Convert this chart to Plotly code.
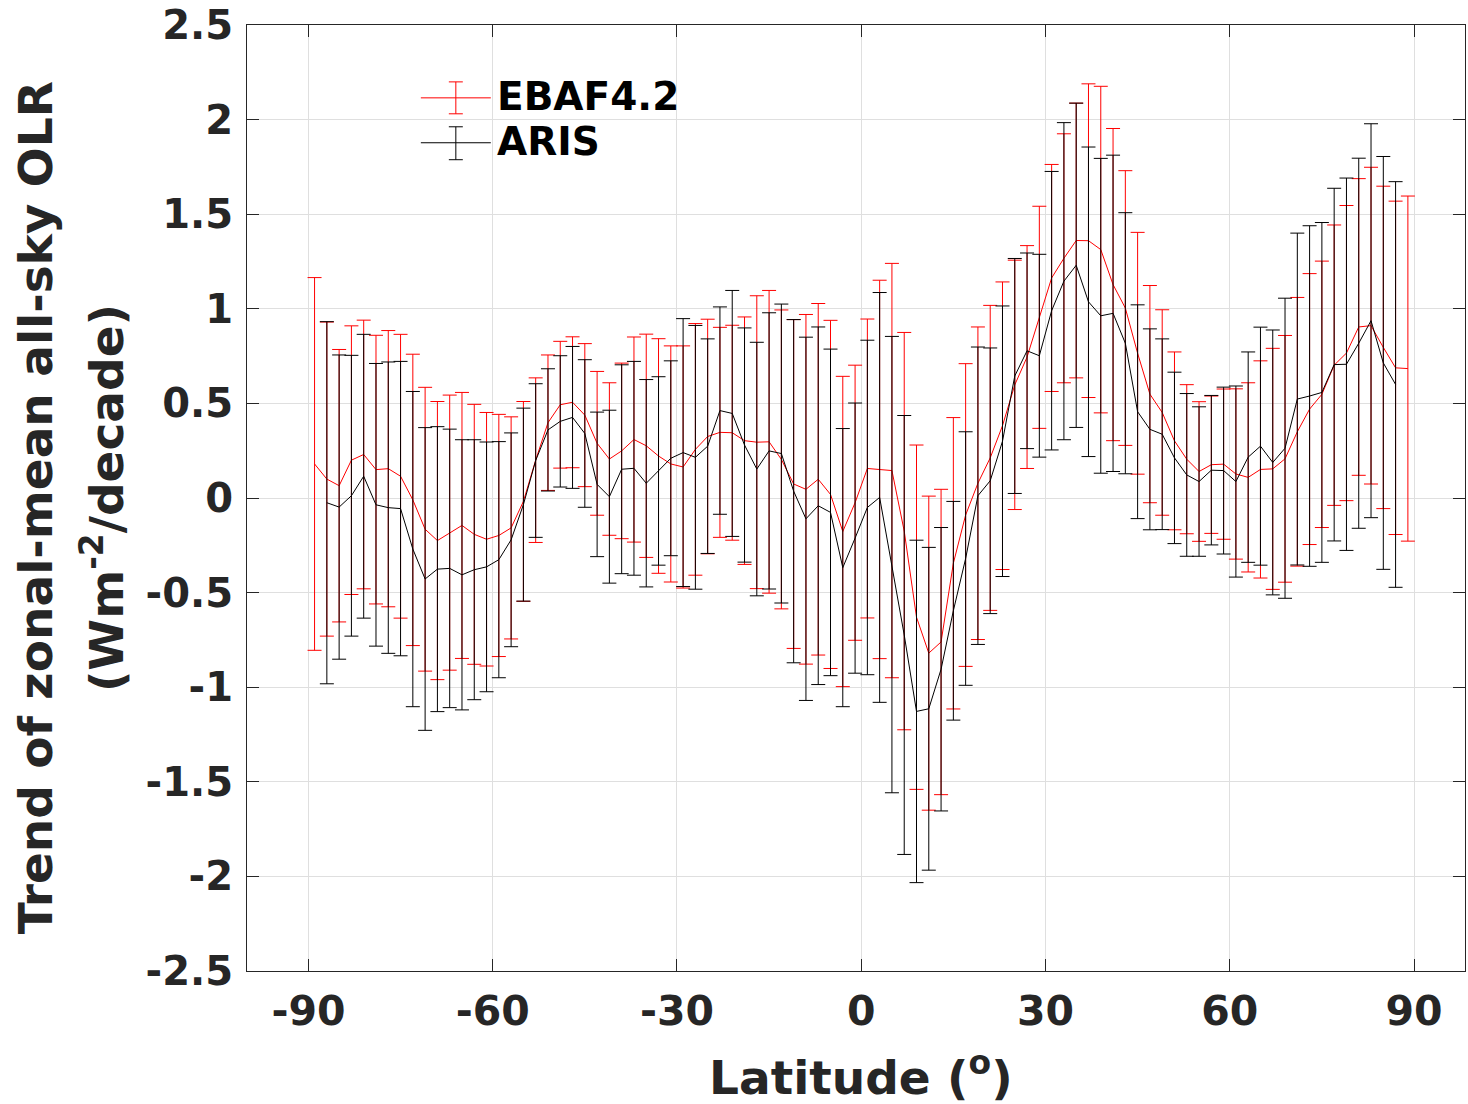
import plotly.graph_objects as go

# ---------------- data ----------------
latitude = list(range(-89, 90, 2))

ebaf_trend = [0.18, 0.10, 0.065, 0.20, 0.23, 0.15, 0.155, 0.115, -0.01, -0.165,
              -0.225, -0.183, -0.145, -0.192, -0.218, -0.198, -0.158, -0.018, 0.20, 0.398,
              0.493, 0.506, 0.438, 0.289, 0.206, 0.249, 0.309, 0.276, 0.222, 0.18,
              0.164, 0.257, 0.325, 0.347, 0.345, 0.303, 0.295, 0.297, 0.204, 0.074,
              0.046, 0.099, 0.019, -0.177, -0.025, 0.156, 0.151, 0.145, -0.175, -0.63,
              -0.82, -0.761, -0.345, -0.09, 0.078, 0.212, 0.382, 0.598, 0.745, 0.955,
              1.163, 1.267, 1.361, 1.36, 1.313, 1.128, 1.004, 0.765, 0.549, 0.452,
              0.302, 0.205, 0.14, 0.176, 0.179, 0.127, 0.109, 0.151, 0.154, 0.207,
              0.35, 0.47, 0.548, 0.702, 0.766, 0.904, 0.911, 0.796, 0.688, 0.684]
ebaf_err = [0.985, 0.83, 0.72, 0.71, 0.71, 0.71, 0.73, 0.75, 0.77, 0.75,
            0.735, 0.727, 0.703, 0.687, 0.67, 0.64, 0.587, 0.528, 0.435, 0.358,
            0.335, 0.346, 0.378, 0.38, 0.403, 0.464, 0.542, 0.59, 0.62, 0.624,
            0.64, 0.665, 0.62, 0.555, 0.568, 0.654, 0.774, 0.80, 0.79, 0.869,
            0.924, 0.929, 0.92, 0.82, 0.727, 0.79, 1.0, 1.095, 1.05, 0.91,
            0.83, 0.807, 0.77, 0.80, 0.826, 0.806, 0.76, 0.659, 0.589, 0.587,
            0.60, 0.658, 0.726, 0.829, 0.863, 0.825, 0.726, 0.639, 0.574, 0.543,
            0.47, 0.394, 0.369, 0.363, 0.397, 0.45, 0.50, 0.574, 0.637, 0.652,
            0.71, 0.716, 0.704, 0.741, 0.78, 0.784, 0.837, 0.852, 0.881, 0.912]

aris_trend = [None, -0.025, -0.048, 0.012, 0.115, -0.036, -0.051, -0.056, -0.27, -0.428,
              -0.376, -0.372, -0.406, -0.379, -0.364, -0.326, -0.221, -0.035, 0.198, 0.36,
              0.405, 0.426, 0.341, 0.072, 0.007, 0.152, 0.157, 0.078, 0.143, 0.21,
              0.24, 0.215, 0.274, 0.462, 0.447, 0.28, 0.153, 0.249, 0.235, 0.036,
              -0.11, -0.041, -0.076, -0.368, -0.212, -0.05, 0.003, -0.352, -0.724, -1.128,
              -1.114, -0.905, -0.596, -0.32, 0.012, 0.091, 0.30, 0.645, 0.778, 0.752,
              0.99, 1.146, 1.23, 1.037, 0.963, 0.976, 0.818, 0.456, 0.363, 0.337,
              0.212, 0.122, 0.087, 0.147, 0.145, 0.087, 0.216, 0.274, 0.188, 0.263,
              0.523, 0.539, 0.558, 0.705, 0.707, 0.818, 0.937, 0.714, 0.60, None]
aris_err = [None, 0.957, 0.804, 0.742, 0.75, 0.747, 0.77, 0.778, 0.833, 0.80,
            0.753, 0.736, 0.714, 0.687, 0.66, 0.624, 0.565, 0.51, 0.406, 0.323,
            0.347, 0.375, 0.39, 0.382, 0.457, 0.552, 0.565, 0.548, 0.498, 0.515,
            0.708, 0.697, 0.567, 0.548, 0.65, 0.619, 0.67, 0.73, 0.79, 0.907,
            0.96, 0.945, 0.863, 0.735, 0.714, 0.884, 1.083, 1.206, 1.16, 0.905,
            0.853, 0.749, 0.578, 0.67, 0.786, 0.702, 0.715, 0.621, 0.517, 0.536,
            0.736, 0.838, 0.857, 0.818, 0.832, 0.836, 0.69, 0.565, 0.531, 0.504,
            0.453, 0.43, 0.395, 0.395, 0.441, 0.505, 0.556, 0.629, 0.70, 0.793,
            0.877, 0.90, 0.898, 0.932, 0.984, 0.978, 1.041, 1.091, 1.072, None]

x_ticks = [-90, -60, -30, 0, 30, 60, 90]
x_ticklabels = ["-90", "-60", "-30", "0", "30", "60", "90"]
y_ticks = [2.5, 2, 1.5, 1, 0.5, 0, -0.5, -1, -1.5, -2, -2.5]
y_ticklabels = ["2.5", "2", "1.5", "1", "0.5", "0", "-0.5", "-1", "-1.5", "-2", "-2.5"]

series_names = ["EBAF4.2", "ARIS"]
series_colors = ["#ff0000", "#000000"]

# ---------------- figure ----------------
W, H = 1468, 1104
L, R, T, B = 247, 2, 23, 133
pw, ph = W - L - R, H - T - B

FONT = "DejaVu Sans"
TXT = "#262626"

fig = go.Figure()
for name, y, e, c in [(series_names[0], ebaf_trend, ebaf_err, series_colors[0]),
                      (series_names[1], aris_trend, aris_err, series_colors[1])]:
    fig.add_trace(go.Scatter(
        x=latitude, y=y, mode="lines", name=name,
        line=dict(color=c, width=1),
        error_y=dict(type="data", array=e, visible=True, color=c, thickness=1, width=7),
        showlegend=False,
    ))

axis_common = dict(
    showline=True, linecolor=TXT, linewidth=1, mirror="ticks",
    ticks="inside", ticklen=12, tickwidth=1, tickcolor=TXT,
    showgrid=True, gridcolor="#dfdfdf", gridwidth=1, zeroline=False,
)
fig.update_xaxes(range=[-100, 98.3], tickvals=x_ticks, ticktext=x_ticklabels,
                 ticklabelstandoff=4,
                 tickfont=dict(family=FONT, size=41, color=TXT, weight="bold"),
                 **axis_common)
fig.update_yaxes(range=[-2.5, 2.5], tickvals=y_ticks, ticktext=y_ticklabels,
                 ticklabelstandoff=5,
                 tickfont=dict(family=FONT, size=40, color=TXT, weight="bold"),
                 **axis_common)


def px(xp):
    return (xp - L) / pw


def py(yp):
    return (H - B - yp) / ph


# axis titles
fig.add_annotation(text="Latitude (<sup>o</sup>)", xref="paper", yref="paper",
                   x=px(862), y=py(1074), xanchor="center", yanchor="middle",
                   showarrow=False, font=dict(family=FONT, size=47, color=TXT, weight="bold"))
fig.add_annotation(text="Trend of zonal-mean all-sky OLR", xref="paper", yref="paper",
                   x=px(36), y=py(507), xanchor="center", yanchor="middle", textangle=-90,
                   showarrow=False, font=dict(family=FONT, size=47, color=TXT, weight="bold"))
fig.add_annotation(text="(Wm<sup>-2</sup>/decade)", xref="paper", yref="paper",
                   x=px(103), y=py(497), xanchor="center", yanchor="middle", textangle=-90,
                   showarrow=False, font=dict(family=FONT, size=47, color=TXT, weight="bold"))

# manual legend (line + error bar glyph)
legend_rows = [(96, 80, 112), (141, 125, 158)]
for (yc, ytop, ybot), name, c in zip(legend_rows, series_names, series_colors):
    fig.add_shape(type="line", xref="paper", yref="paper", x0=px(421), x1=px(491),
                  y0=py(yc), y1=py(yc), line=dict(color=c, width=1))
    fig.add_shape(type="line", xref="paper", yref="paper", x0=px(456), x1=px(456),
                  y0=py(ytop), y1=py(ybot), line=dict(color=c, width=1))
    for yy in (ytop, ybot):
        fig.add_shape(type="line", xref="paper", yref="paper", x0=px(449), x1=px(463),
                      y0=py(yy), y1=py(yy), line=dict(color=c, width=1))
    fig.add_annotation(text=name, xref="paper", yref="paper", x=px(495), y=py(yc - 1),
                       xanchor="left", yanchor="middle", showarrow=False,
                       font=dict(family=FONT, size=39, color="#000000", weight="bold"))

fig.update_layout(
    width=W, height=H,
    margin=dict(l=L, r=R, t=T, b=B, pad=0),
    paper_bgcolor="white", plot_bgcolor="white",
    showlegend=False,
)

fig.write_html("out.html",
               config={"displayModeBar": False},
               post_script="document.body.style.margin='0';document.body.style.padding='0';")
